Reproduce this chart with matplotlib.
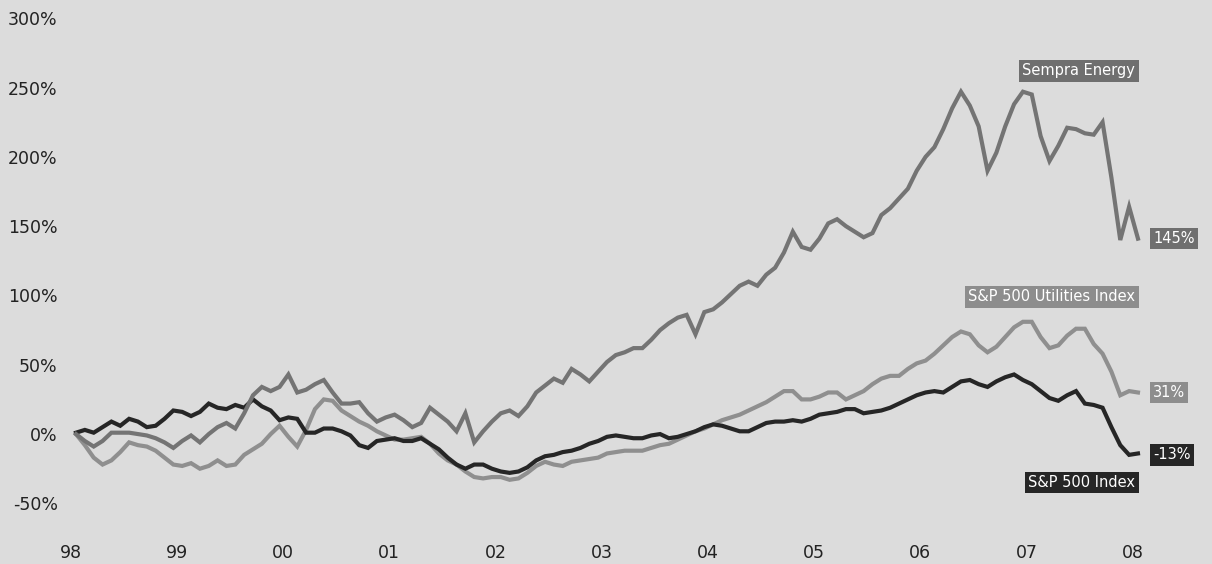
import matplotlib
matplotlib.use("Agg")
import matplotlib.pyplot as plt

# monthly cumulative total return (%), starting at 98
sempra = [0, -5, -9, -5, 1, 1, 1, 0, -1, -3, -6, -10,
          -5, -1, -6, 0, 5, 8, 4, 15, 28, 34, 31, 34,
          43, 30, 32, 36, 39, 30, 22, 22, 23, 15, 9, 12,
          14, 10, 5, 8, 19, 14, 9, 2, 15, -6, 2, 9,
          15, 17, 13, 20, 30, 35, 40, 37, 47, 43, 38, 45,
          52, 57, 59, 62, 62, 68, 75, 80, 84, 86, 72, 88,
          90, 95, 101, 107, 110, 107, 115, 120, 131, 146, 135, 133,
          141, 152, 155, 150, 146, 142, 145, 158, 163, 170, 177, 190,
          200, 207, 220, 235, 247, 237, 222, 190, 203, 222, 238, 247,
          245, 215, 197, 208, 221, 220, 217, 216, 225, 185, 140, 164,
          141]
utilities = [0, -8, -17, -22, -19, -13, -6, -8, -9, -12, -17, -22,
             -23, -21, -25, -23, -19, -23, -22, -15, -11, -7, 0, 6,
             -2, -9, 3, 18, 25, 24, 17, 13, 9, 6, 2, -1,
             -4, -4, -3, -2, -7, -14, -19, -22, -27, -31, -32, -31,
             -31, -33, -32, -28, -23, -20, -22, -23, -20, -19, -18, -17,
             -14, -13, -12, -12, -12, -10, -8, -7, -4, -1, 2, 4,
             7, 10, 12, 14, 17, 20, 23, 27, 31, 31, 25, 25,
             27, 30, 30, 25, 28, 31, 36, 40, 42, 42, 47, 51,
             53, 58, 64, 70, 74, 72, 64, 59, 63, 70, 77, 81,
             81, 70, 62, 64, 71, 76, 76, 65, 58, 45, 28, 31,
             30]
sp500 = [1, 3, 1, 5, 9, 6, 11, 9, 5, 6, 11, 17,
         16, 13, 16, 22, 19, 18, 21, 19, 25, 20, 17, 10,
         12, 11, 1, 1, 4, 4, 2, -1, -8, -10, -5, -4,
         -3, -5, -5, -3, -7, -11, -17, -22, -25, -22, -22, -25,
         -27, -28, -27, -24, -19, -16, -15, -13, -12, -10, -7, -5,
         -2, -1, -2, -3, -3, -1, 0, -3, -2, 0, 2, 5,
         7, 6, 4, 2, 2, 5, 8, 9, 9, 10, 9, 11,
         14, 15, 16, 18, 18, 15, 16, 17, 19, 22, 25, 28,
         30, 31, 30, 34, 38, 39, 36, 34, 38, 41, 43, 39,
         36, 31, 26, 24, 28, 31, 22, 21, 19, 5, -8, -15,
         -14]
months = list(range(len(sempra)))

year_labels = ['98', '99', '00', '01', '02', '03', '04', '05', '06', '07', '08']
y_ticks = [-50, 0, 50, 100, 150, 200, 250, 300]

names = ['Sempra Energy', 'S&P 500 Utilities Index', 'S&P 500 Index']
end_labels = ['145%', '31%', '-13%']
name_y = [262, 99, -35]
end_y = [141, 30, -15]
colors = ['#6f6f6f', '#8d8d8d', '#262626']
line_colors = ['#747474', '#8f8f8f', '#262626']

bg = '#dcdcdc'
fig = plt.figure(figsize=(12.12, 5.64), dpi=100, facecolor=bg)
ax = fig.add_axes([66 / 1212, 44 / 564, (1150 - 66) / 1212, (520 - 8) / 564])
ax.set_facecolor(bg)

for vals, col in zip([utilities, sp500, sempra], [line_colors[1], line_colors[2], line_colors[0]]):
    ax.plot(months, vals, color=col, lw=3.0, solid_joinstyle='miter')

ax.set_xlim(-1.13, 121.36)
ax.set_ylim(-62, 307.4)

ax.set_yticks(y_ticks)
ax.set_yticklabels([f'{v}%' for v in y_ticks])
ax.set_xticks([12 * i - 0.6 for i in range(len(year_labels))])
ax.set_xticklabels(year_labels)
ax.tick_params(axis='y', length=0, pad=6, labelsize=12.5, labelcolor='#222222')
ax.tick_params(axis='x', length=0, pad=17, labelsize=12.5, labelcolor='#222222')
for s in ax.spines.values():
    s.set_visible(False)

for name, ny, lab, ey, col in zip(names, name_y, end_labels, end_y, colors):
    ax.text(119.7, ny, name, ha='right', va='center', color='white',
            fontsize=10.5, clip_on=False,
            bbox=dict(boxstyle='square,pad=0.22', fc=col, ec='none'))
    ax.text(121.7, ey, lab, ha='left', va='center', color='white',
            fontsize=10.5, clip_on=False,
            bbox=dict(boxstyle='square,pad=0.22', fc=col, ec='none'))

fig.savefig('out.png', dpi=100, facecolor=bg)
